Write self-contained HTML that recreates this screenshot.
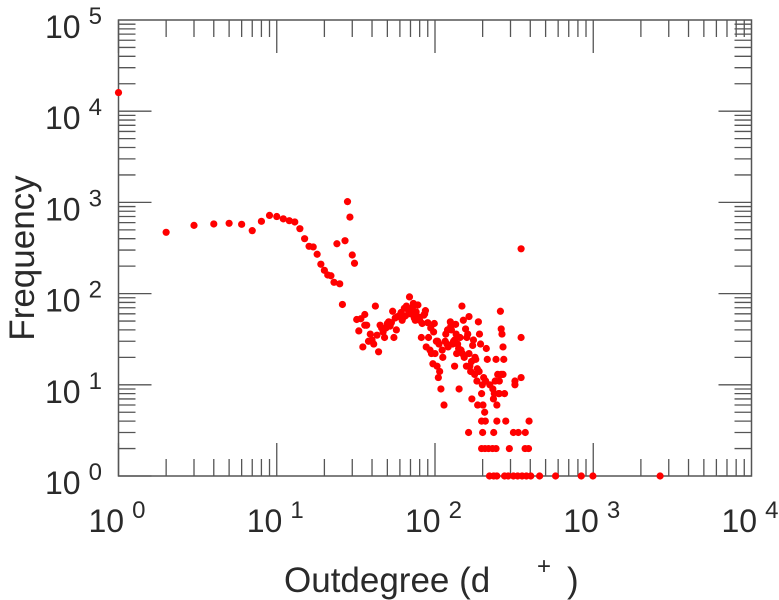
<!DOCTYPE html>
<html><head><meta charset="utf-8"><style>
html,body{margin:0;padding:0;background:#fff;}
svg{display:block;font-family:"Liberation Sans",sans-serif;}
</style></head><body>
<svg id="chart" width="779" height="600">
<g id="ticks"></g>
<rect x="118.5" y="20" width="633" height="456" fill="none" stroke="#555" stroke-width="1.5"/>
<g id="labels" fill="#2a2a2a"></g>
<g id="points" fill="#ff0000"></g>
<text x="22" y="258" transform="rotate(-90 22 258)" dy="12" text-anchor="middle" font-size="35" fill="#2a2a2a">Frequency</text>
<text x="284" y="592" font-size="35" fill="#2a2a2a">Outdegree (d<tspan x="537" y="574" font-size="24">+</tspan><tspan x="567" y="592">)</tspan></text>
</svg>
<script>
const xDecades=[0,1,2,3,4];
const yDecades=[0,1,2,3,4,5];
const xs=[1,2,3,4,5,6,7,8,9,10,11,12,13,14,15,16,17,18,19,20,21,22,23,25,26,24,27,28,29,30,31,350,350,350,320,320,
221,235,246,275,290,313,333,355,378,403,458,578,840,995,2645,
197,207,218,231,243,295,371,390,
163,200,235,313,336,372,
197,208,246,280,393,
32,34,36,33,35,37,39,40,41,42,44,45,47,48,50,51,54,55,57,58,60,62,64,66,69,71,73,75,78,80,83,82,85,88,91,93,95,99,100,97,103,107,105,109,114,117,121,125,129,133,136,137,133,142,144,148,151,156,161,164,166,168,164,171,175,179,181,184,186,188,191,194,197,201,206,209,211,214,237,243,249,255,259,262,265,269,272,269,275,246,234,255,240,
38,43,46,52,56,61,65,68,72,76,79,86,90,94,98,102,106,111,116,120,126,131,139,146,153,158,170,178,190,203,222,232,252,262,
36,49,53,63,67,70,74,87,104,112,119,127,135,141,149,159,173,185,199];
const ys=[16000,470,560,580,590,575,490,620,720,700,660,630,610,515,400,330,325,270,210,180,160,157,133,128,76,352,380,1020,690,265,215,310,33,12,11,10,
1,1,1,1,1,1,1,1,1,1,1,1,1,1,1,
2,2,2,2,2,2,2,2,
3,3,3,3,3,3,
4,4,4,4,4,
52,53,59,39,26,45,36,31,28,73,23,45,38,33,47,49,64,33,40,56,58,51,69,73,92,60,78,51,75,51,47,33,58,26,33,24,22,47,22,17,16,14,12,9,6,36,26,49,28,31,36,22,16,9,33,73,51,41,36,22,16,14,56,7,31,20,19,11,6,49,36,28,8,6,5,11,25,19,8,19,13,11,64,41,36,26,19,13,8,6,7,8,11,
30,35,42,44,54,62,57,66,70,63,55,60,48,42,38,30,28,24,30,40,44,30,28,24,20,16,18,13,14,12,10,9,8,13,
45,42,48,55,68,60,54,65,30,20,28,40,46,25,22,33,27,15,10];
const svg="http://www.w3.org/2000/svg";
const L=118.5,R=751.5,T=20,B=476;
function sx(v){return L+Math.log10(v)/4*(R-L);}
function sy(v){return B-Math.log10(v)/5*(B-T);}
const tg=document.getElementById('ticks');
function line(x1,y1,x2,y2){const l=document.createElementNS(svg,'line');
l.setAttribute('x1',x1);l.setAttribute('y1',y1);l.setAttribute('x2',x2);l.setAttribute('y2',y2);
l.setAttribute('stroke','#555');l.setAttribute('stroke-width','1.3');


tg.appendChild(l);}
for(let d=0;d<4;d++){for(let m=1;m<10;m++){const x=sx(Math.pow(10,d)*m);const len=m===1?33:17;
line(x,B,x,B-len);line(x,T,x,T+len);}}
for(let d=0;d<5;d++){for(let m=1;m<10;m++){const y=sy(Math.pow(10,d)*m);const len=m===1?33:17;
line(L,y,L+len,y);line(R,y,R-len,y);}}
const lg=document.getElementById('labels');
function lab(x,y,exp,name){const t=document.createElementNS(svg,'text');
t.setAttribute('x',x);t.setAttribute('y',y);t.setAttribute('font-size','32');
t.textContent='10';


const s=document.createElementNS(svg,'tspan');s.setAttribute('dx','8');s.setAttribute('dy','-14');s.setAttribute('font-size','24');s.textContent=exp;t.appendChild(s);lg.appendChild(t);}
xDecades.forEach(d=>lab(sx(Math.pow(10,d))-30,532,String(d),'x-tick-label'));
yDecades.forEach(d=>lab(45,sy(Math.pow(10,d))+18,String(d),'y-tick-label'));
const pg=document.getElementById('points');
const n=Math.min(xs.length,ys.length);
for(let i=0;i<n;i++){const c=document.createElementNS(svg,'circle');
c.setAttribute('cx',sx(xs[i]));c.setAttribute('cy',sy(ys[i]));c.setAttribute('r','3.6');


pg.appendChild(c);}
</script>
</body></html>
